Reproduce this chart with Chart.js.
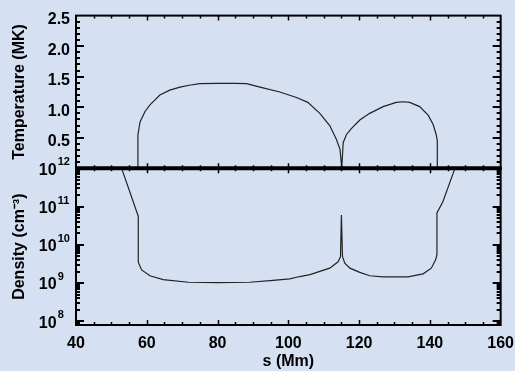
<!DOCTYPE html>
<html lang="en">
  <head>
    <meta charset="UTF-8" />
    <script src="https://cdn.jsdelivr.net/npm/chart.js@4.4.1/dist/chart.umd.min.js"></script>
    <title>Loop temperature and density</title>
    <style>
      body { margin: 0; background: #d6e0f3; }
      canvas { display: block; }
    </style>
  </head>
  <body>
    <canvas id="myChart" width="515" height="371"></canvas>

    <script>
      // temperature along the loop, s in Mm, T in MK
      const sTemp = [40, 57.5, 57.5, 58.1, 59.5, 60.9, 63.7, 66.5, 69.4, 72.0, 75.0, 80.0, 85.0, 88.2, 92.0, 97.6,
        102.3, 105.5, 108.9, 111.7, 113.6, 114.6, 115.1, 115.5, 116.4, 117.8, 120.2, 123.0, 126.8, 130.5,
        132.5, 134.3, 137.1, 139.5, 140.9, 141.8, 142.1, 142.1, 160];
      const temp = [0, 0, 0.55, 0.76, 0.93, 1.04, 1.20, 1.28, 1.33, 1.36, 1.385, 1.39, 1.39, 1.385, 1.33, 1.25,
        1.16, 1.08, 0.90, 0.70, 0.47, 0.31, 0, 0.42, 0.55, 0.65, 0.79, 0.90, 1.01, 1.08,
        1.09, 1.08, 1.01, 0.87, 0.72, 0.55, 0.45, 0, 0];

      // electron density, cm^-3
      const sDens = [50, 52.9, 57.2, 57.6, 57.6, 58.55, 60.9, 64.65, 71.7, 80, 89.1, 95.7, 100.4, 103.25, 106.1,
        111.7, 114.06, 114.74, 115.0, 115.3, 115.95, 117.4, 120.2, 123.0, 126.8, 133.8, 138.1, 140.4,
        141.65, 142.0, 142.0, 143.7, 147.0, 150];
      const dens = [6.3e12, 1.0e12, 7.1e10, 5.6e10, 3.5e9, 2.2e9, 1.55e9, 1.23e9, 1.05e9, 1.02e9, 1.05e9, 1.17e9, 1.29e9, 1.48e9, 1.66e9,
        2.45e9, 3.6e9, 4.9e9, 6.0e10, 5.0e9, 3.3e9, 2.45e9, 1.9e9, 1.55e9, 1.45e9, 1.45e9, 1.74e9, 2.45e9,
        4.1e9, 5.6e9, 6.8e10, 1.35e11, 9.5e11, 5.6e12];

      const tempTicks = [0.5, 1.0, 1.5, 2.0, 2.5];
      const densTicks = [1e8, 1e9, 1e10, 1e11, 1e12];

      const font = { family: "Liberation Sans", size: 16, weight: "bold" };
      const densBase = "10   "; // room left for the exponent
      const noGrid = { display: false, drawTicks: false, tickLength: 0 };

      // IDL style frame: inward ticks on all four sides of each panel
      const framePlugin = {
        id: "frame",
        beforeDatasetDraw(chart, args) {
          const ys = args.meta.yScale;
          const a = chart.chartArea;
          chart.ctx.save();
          chart.ctx.beginPath();
          chart.ctx.rect(a.left, ys.top, a.right - a.left, ys.bottom - ys.top);
          chart.ctx.clip();
        },
        afterDatasetDraw(chart) {
          chart.ctx.restore();
        },
        afterDraw(chart) {
          const ctx = chart.ctx;
          const x = chart.scales.x;
          const yT = chart.scales.yT;
          const yN = chart.scales.yN;
          const L = chart.chartArea.left, R = chart.chartArea.right;
          ctx.save();
          ctx.strokeStyle = "#000";

          // y ticks
          ctx.lineWidth = 2;
          ctx.beginPath();
          for (let k = 1; k < 25; k++) {
            const y = Math.round(yT.getPixelForValue(k / 10));
            const len = k % 5 === 0 ? 8 : 4;
            ctx.moveTo(L, y); ctx.lineTo(L + len, y);
            ctx.moveTo(R, y); ctx.lineTo(R - len, y);
          }
          for (let d = 7; d <= 11; d++) {
            for (let m = 1; m <= 9; m++) {
              const v = m * Math.pow(10, d);
              if (v <= yN.min || v >= yN.max) continue;
              const y = Math.round(yN.getPixelForValue(v));
              const len = m === 1 ? 8 : 4;
              ctx.moveTo(L, y); ctx.lineTo(L + len, y);
              ctx.moveTo(R, y); ctx.lineTo(R - len, y);
            }
          }
          ctx.stroke();

          // x ticks on both panels
          ctx.lineWidth = 1.5;
          ctx.beginPath();
          for (let v = 45; v < 160; v += 5) {
            const px = Math.round(x.getPixelForValue(v)) + 0.5;
            const len = (v - 40) % 20 === 0 ? 5 : 3;
            [yT, yN].forEach((p) => {
              ctx.moveTo(px, p.top); ctx.lineTo(px, p.top + len);
              ctx.moveTo(px, p.bottom); ctx.lineTo(px, p.bottom - len);
            });
          }
          ctx.stroke();

          // frames
          ctx.lineWidth = 2;
          [yT, yN].forEach((p) => {
            ctx.strokeRect(L, p.top, R - L, p.bottom - p.top);
          });
          ctx.lineWidth = 4;
          ctx.beginPath();
          ctx.moveTo(L - 1, yT.bottom); ctx.lineTo(R + 1, yT.bottom);
          ctx.stroke();

          // exponents of the density tick labels, just after the "10"
          ctx.font = "bold 16px 'Liberation Sans'";
          const gap = ctx.measureText(densBase).width - ctx.measureText("10").width;
          const ex = L - 6 - gap + 1;
          ctx.fillStyle = "#000";
          ctx.font = "bold 11px 'Liberation Sans'";
          ctx.textAlign = "left";
          ctx.textBaseline = "middle";
          densTicks.forEach((v) => {
            const y = yN.getPixelForValue(v);
            ctx.fillText(String(Math.round(Math.log10(v))), ex, y - 6);
          });
          ctx.restore();
        },
      };

      setup();
      function setup() {
        const ctx = document.getElementById("myChart").getContext("2d");
        const myChart = new Chart(ctx, {
          type: "line",
          data: {
            datasets: [
              {
                label: "Temperature (MK)",
                data: sTemp.map((s, i) => ({ x: s, y: temp[i] })),
                yAxisID: "yT",
                borderColor: "#222",
                borderWidth: 1.2,
                pointRadius: 0,
                tension: 0,
              },
              {
                label: "Density",
                data: sDens.map((s, i) => ({ x: s, y: dens[i] })),
                yAxisID: "yN",
                borderColor: "#222",
                borderWidth: 1.2,
                pointRadius: 0,
                tension: 0,
              },
            ],
          },
          options: {
            responsive: false,
            animation: false,
            layout: { padding: { top: 13, right: 0, bottom: 0, left: 0 } },
            plugins: { legend: { display: false }, tooltip: { enabled: false } },
            scales: {
              x: {
                type: "linear",
                position: "bottom",
                min: 40,
                max: 160,
                grid: { display: false },
                border: { display: false },
                ticks: { stepSize: 20, padding: 1, color: "#000", font: font, maxRotation: 0 },
                title: { display: true, text: "s (Mm)", color: "#000", font: font, padding: { top: 0, bottom: 0 } },
                afterFit: (s) => { s.height = 46; },
              },
              yN: {
                type: "logarithmic",
                position: "left",
                stack: "v",
                stackWeight: 158,
                min: 8e7,
                max: 1e12,
                grid: noGrid,
                border: { display: false },
                afterBuildTicks: (s) => { s.ticks = densTicks.map((v) => ({ value: v })); },
                ticks: {
                  autoSkip: false,
                  padding: 6,
                  labelOffset: 2,
                  color: "#000",
                  font: font,
                  callback: () => densBase,
                },
                title: { display: true, text: "Density (cm⁻³)", color: "#000", font: font, padding: { top: 10, bottom: 0 } },
                afterFit: (s) => { s.width = 76; },
              },
              yT: {
                type: "linear",
                position: "left",
                stack: "v",
                stackWeight: 154,
                min: 0,
                max: 2.5,
                grid: noGrid,
                border: { display: false },
                afterBuildTicks: (s) => { s.ticks = tempTicks.map((v) => ({ value: v })); },
                ticks: { autoSkip: false, padding: 6, labelOffset: 4, color: "#000", font: font, callback: (v) => v.toFixed(1) },
                title: { display: true, text: "Temperature (MK)", color: "#000", font: font, padding: { top: 10, bottom: 0 } },
                afterFit: (s) => { s.width = 76; },
              },
            },
          },
          plugins: [framePlugin],
        });
      }
    </script>
  </body>
</html>
